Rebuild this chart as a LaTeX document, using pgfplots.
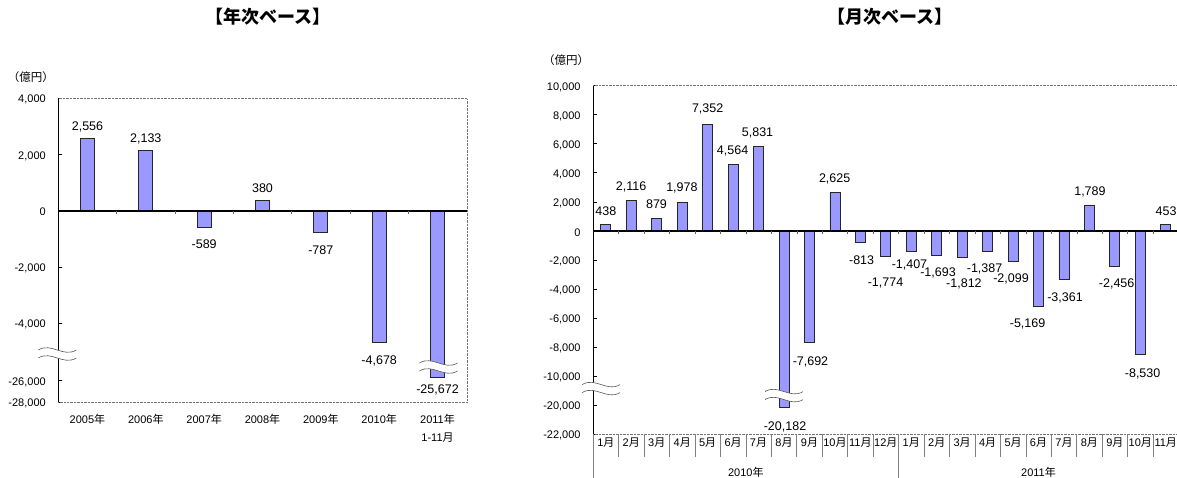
\documentclass[border=0pt]{standalone}
\usepackage{fontspec}
\setmainfont{Liberation Sans}
\newfontfamily\jp{Noto Sans CJK JP}
\usepackage{pgfplots}
\usepackage{pgfplotstable}
\pgfplotsset{compat=1.18}
\definecolor{barblue}{HTML}{9999FF}

% annual; 2011 plotted on the compressed part below the break (-25,672)
\pgfplotstableread{
x y
0 2556
1 2133
2 -589
3 380
4 -787
5 -4678
6 -5924
}\annual
\pgfplotstableread{
x y label
0 2979 2,556
1 2552 2,133
2 -1185 -589
3 808 380
4 -1399 -787
5 -5349 -4,678
6 -6377 -25,672
}\annuallab
% monthly; Aug 2010 plotted below the break (-20,182)
\pgfplotstableread{
x y
0 438
1 2116
2 879
3 1978
4 7352
5 4564
6 5831
7 -12182
8 -7692
9 2625
10 -813
11 -1774
12 -1407
13 -1693
14 -1812
15 -1387
16 -2099
17 -5169
18 -3361
19 1789
20 -2456
21 -8530
22 453
}\monthly
\pgfplotstableread{
x y label
0 1328 438
0.99 3049 2,116
1.99 1810 879
2.99 2980 1,978
4.0 8417 7,352
4.98 5526 4,564
5.96 6765 5,831
7.04 -13469 -20,182
8.04 -8995 -7,692
8.99 3599 2,625
10.05 -2044 -813
10.99 -3558 -1,774
11.93 -2319 -1,407
13.05 -2870 -1,693
14.07 -3627 -1,812
14.88 -2595 -1,387
15.92 -3283 -2,099
16.57 -6380 -5,169
18.04 -4591 -3,361
19.02 2705 1,789
20.07 -3627 -2,456
21.09 -9821 -8,530
22.01 1328 453
}\monthlylab

\newcommand{\brk}[3]{% x, y, left offset
  \fill[white] (axis cs:#1,#2) ++(#3,4pt) .. controls +(13pt,8pt) and +(-13pt,-8pt) .. ++(38pt,0pt)
     -- ++(0pt,-8pt) .. controls +(-13pt,-8pt) and +(13pt,8pt) .. ++(-38pt,0pt) -- cycle;
  \draw[black!65, line width=0.6pt] (axis cs:#1,#2) ++(#3,4pt) .. controls +(13pt,8pt) and +(-13pt,-8pt) .. ++(38pt,0pt);
  \draw[black!65, line width=0.6pt] (axis cs:#1,#2) ++(#3,-4pt) .. controls +(13pt,8pt) and +(-13pt,-8pt) .. ++(38pt,0pt);
}

\pgfplotsset{
  common/.style={
    scale only axis, clip=false,
    scaled ticks=false,
    axis line style={draw=none},
    tick pos=left, tick align=inside, major tick length=4pt,
    xtick style={draw=none},
    ytick style={black, line width=0.6pt},
    yticklabel style={font=\fontsize{11}{13}\selectfont, xshift=-9pt, yshift=-1.5pt},
  },
  bars/.style={ybar, fill=barblue, draw=black!85, line width=0.8pt},
  labs/.style={draw=none, mark=none, nodes near coords, point meta=explicit symbolic,
    nodes near coords align=center,
    every node near coord/.append style={font=\fontsize{12.5}{14}\selectfont, inner sep=0pt}},
}

\begin{document}
\begin{tikzpicture}
\useasboundingbox (0pt,0pt) rectangle (1177pt,-477pt);

\node[font=\jp\bfseries\fontsize{18}{20}\selectfont] at (268pt,-17pt) {【年次ベース】};
\node[font=\jp\bfseries\fontsize{18}{20}\selectfont] at (890pt,-17pt) {【月次ベース】};
\node[font=\jp\fontsize{11.5}{13}\selectfont] at (31pt,-77pt) {（億円）};
\node[font=\jp\fontsize{11.5}{13}\selectfont] at (566pt,-60pt) {（億円）};

% ---------------- annual ----------------
\begin{axis}[common,
  at={(58.3pt,-402.3pt)}, anchor=south west,
  width=408.4pt, height=304pt,
  xmin=-0.5, xmax=6.5, ymin=-6819, ymax=4000,
  xtick={0,...,6},
  xticklabels={2005{\jp 年},2006{\jp 年},2007{\jp 年},2008{\jp 年},2009{\jp 年},2010{\jp 年},{2011{\jp 年}\\1-11{\jp 月}}},
  xticklabel style={font=\fontsize{11}{18}\selectfont, align=center, anchor=north, yshift=-8pt},
  ytick={4000,2000,0,-2000,-4000,-6050,-6819},
  yticklabels={{4,000},{2,000},0,{-2,000},{-4,000},{-26,000},{-28,000}},
]
\addplot[bars, bar width=14pt] table[x=x,y=y]{\annual};
\draw[black!55, densely dotted] (rel axis cs:0,0) -- (rel axis cs:1,0) -- (rel axis cs:1,1) -- (rel axis cs:0,1);
\draw[black, line width=1.2pt] (rel axis cs:0,0) -- (rel axis cs:0,1);
\draw[black, line width=1.8pt] (axis cs:-0.5,0) -- (axis cs:6.5,0);
\pgfplotsinvokeforeach{0.5,1.5,2.5,3.5,4.5,5.5}{\draw[black!60] (axis cs:#1,0) -- ++(0pt,-3pt);}
\brk{-0.5}{-5100}{-20pt}
\brk{6}{-5562}{-18pt}
\addplot[labs] table[x=x,y=y,meta=label]{\annuallab};
\end{axis}

% ---------------- monthly ----------------
\begin{axis}[common,
  at={(593.1pt,-434.3pt)}, anchor=south west,
  width=585.4pt, height=348.7pt,
  xmin=-0.5, xmax=22.5, ymin=-14000, ymax=10000,
  xtick={0,...,22},
  xticklabels={1{\jp 月},2{\jp 月},3{\jp 月},4{\jp 月},5{\jp 月},6{\jp 月},7{\jp 月},8{\jp 月},9{\jp 月},10{\jp 月},11{\jp 月},12{\jp 月},
               1{\jp 月},2{\jp 月},3{\jp 月},4{\jp 月},5{\jp 月},6{\jp 月},7{\jp 月},8{\jp 月},9{\jp 月},10{\jp 月},11{\jp 月}},
  xticklabel style={font=\fontsize{11}{12}\selectfont, anchor=north, yshift=-1pt, inner sep=2pt},
  ytick={10000,8000,6000,4000,2000,0,-2000,-4000,-6000,-8000,-10000,-12000,-14000},
  yticklabels={{10,000},{8,000},{6,000},{4,000},{2,000},0,{-2,000},{-4,000},{-6,000},{-8,000},{-10,000},{-20,000},{-22,000}},
]
\addplot[bars, bar width=10pt] table[x=x,y=y]{\monthly};
\draw[black!55, densely dotted] (rel axis cs:0,0) -- (rel axis cs:1,0) -- (rel axis cs:1,1) -- (rel axis cs:0,1);
\draw[black, line width=1.2pt] (rel axis cs:0,0) -- (rel axis cs:0,1);
\draw[black, line width=1.8pt] (axis cs:-0.5,0) -- (axis cs:22.5,0);
\pgfplotsinvokeforeach{0.5,1.5,2.5,3.5,4.5,5.5,6.5,7.5,8.5,9.5,10.5,11.5,12.5,13.5,14.5,15.5,16.5,17.5,18.5,19.5,20.5,21.5}{\draw[black!60] (axis cs:#1,0) -- ++(0pt,-3pt);}
\pgfplotsinvokeforeach{0.5,1.5,2.5,3.5,4.5,5.5,6.5,7.5,8.5,9.5,10.5,12.5,13.5,14.5,15.5,16.5,17.5,18.5,19.5,20.5,21.5}{\draw[black!50, line width=0.6pt] (axis cs:#1,-14000) -- ++(0pt,-23pt);}
\pgfplotsinvokeforeach{-0.5,11.5}{\draw[black!50, line width=0.8pt] (axis cs:#1,-14000) -- ++(0pt,-45pt);}
\node[font=\fontsize{11}{12}\selectfont] at (axis cs:5.5,-14000) [yshift=-38pt] {2010{\jp 年}};
\node[font=\fontsize{11}{12}\selectfont] at (axis cs:17,-14000) [yshift=-38pt] {2011{\jp 年}};
\brk{-0.5}{-10853}{-11pt}
\brk{7}{-11335}{-19pt}
\addplot[labs] table[x=x,y=y,meta=label]{\monthlylab};
\end{axis}
\end{tikzpicture}
\end{document}
